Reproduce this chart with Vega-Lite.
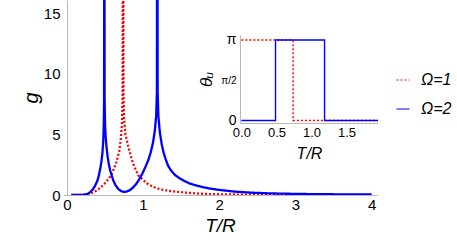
{
  "$schema": "https://vega.github.io/schema/vega-lite/v6.json",
  "width": 314,
  "height": 195,
  "autosize": "none",
  "padding": {"left": 63, "top": 0, "right": 80, "bottom": 47},
  "background": "white",
  "config": {
    "view": {"stroke": null},
    "font": "Liberation Sans",
    "axis": {"grid": false, "ticks": false, "domainColor": "#b8b8b8", "domainWidth": 1, "labelColor": "#000", "titleColor": "#000", "titleFontWeight": "normal", "titleFontStyle": "italic"},
    "legend": {"orient": "none", "legendX": 332, "legendY": 72, "padding": 0, "labelFontSize": 16, "labelFontStyle": "italic", "labelColor": "#000", "symbolType": "stroke", "symbolSize": 170, "symbolStrokeWidth": 1.2, "labelOffset": 10, "rowPadding": 13}
  },
  "datasets": {
    "main": [
      {"s":"Ω=1","t":0.06,"g":0},{"s":"Ω=1","t":0.15,"g":0.002},{"s":"Ω=1","t":0.2,"g":0.01},{"s":"Ω=1","t":0.25,"g":0.03},{"s":"Ω=1","t":0.3,"g":0.1},{"s":"Ω=1","t":0.35,"g":0.22},{"s":"Ω=1","t":0.39,"g":0.36},{"s":"Ω=1","t":0.44,"g":0.6},{"s":"Ω=1","t":0.48,"g":0.83},{"s":"Ω=1","t":0.52,"g":1.1},{"s":"Ω=1","t":0.566,"g":1.5},{"s":"Ω=1","t":0.6,"g":1.9},{"s":"Ω=1","t":0.63,"g":2.35},{"s":"Ω=1","t":0.66,"g":2.9},{"s":"Ω=1","t":0.69,"g":3.7},{"s":"Ω=1","t":0.71,"g":4.7},{"s":"Ω=1","t":0.725,"g":6},{"s":"Ω=1","t":0.733,"g":8.5},{"s":"Ω=1","t":0.738,"g":40},{"s":"Ω=1","t":0.743,"g":8.5},{"s":"Ω=1","t":0.752,"g":6.2},{"s":"Ω=1","t":0.77,"g":5.0},{"s":"Ω=1","t":0.807,"g":4.0},{"s":"Ω=1","t":0.84,"g":3.2},{"s":"Ω=1","t":0.87,"g":2.6},{"s":"Ω=1","t":0.9,"g":2.15},{"s":"Ω=1","t":0.94,"g":1.6},{"s":"Ω=1","t":1.0,"g":1.25},{"s":"Ω=1","t":1.05,"g":0.97},{"s":"Ω=1","t":1.12,"g":0.72},{"s":"Ω=1","t":1.18,"g":0.55},{"s":"Ω=1","t":1.26,"g":0.43},{"s":"Ω=1","t":1.355,"g":0.33},{"s":"Ω=1","t":1.46,"g":0.26},{"s":"Ω=1","t":1.575,"g":0.19},{"s":"Ω=1","t":1.7,"g":0.13},{"s":"Ω=1","t":1.86,"g":0.08},{"s":"Ω=1","t":2.0,"g":0.06},{"s":"Ω=1","t":2.2,"g":0.04},{"s":"Ω=1","t":2.5,"g":0.025},{"s":"Ω=1","t":3.0,"g":0.012},{"s":"Ω=1","t":3.5,"g":0.007},{"s":"Ω=1","t":4.0,"g":0.004},
      {"s":"Ω=2","t":0.06,"g":0},{"s":"Ω=2","t":0.15,"g":0.003},{"s":"Ω=2","t":0.2,"g":0.015},{"s":"Ω=2","t":0.25,"g":0.05},{"s":"Ω=2","t":0.28,"g":0.12},{"s":"Ω=2","t":0.31,"g":0.25},{"s":"Ω=2","t":0.34,"g":0.45},{"s":"Ω=2","t":0.37,"g":0.75},{"s":"Ω=2","t":0.4,"g":1.15},{"s":"Ω=2","t":0.42,"g":1.6},{"s":"Ω=2","t":0.44,"g":2.2},{"s":"Ω=2","t":0.455,"g":2.8},{"s":"Ω=2","t":0.468,"g":3.5},{"s":"Ω=2","t":0.478,"g":4.5},{"s":"Ω=2","t":0.485,"g":5.8},{"s":"Ω=2","t":0.489,"g":8},{"s":"Ω=2","t":0.492,"g":40},{"s":"Ω=2","t":0.496,"g":8},{"s":"Ω=2","t":0.502,"g":5.8},{"s":"Ω=2","t":0.51,"g":4.8},{"s":"Ω=2","t":0.52,"g":4.0},{"s":"Ω=2","t":0.535,"g":3.2},{"s":"Ω=2","t":0.55,"g":2.6},{"s":"Ω=2","t":0.57,"g":2.0},{"s":"Ω=2","t":0.59,"g":1.6},{"s":"Ω=2","t":0.61,"g":1.2},{"s":"Ω=2","t":0.64,"g":0.8},{"s":"Ω=2","t":0.675,"g":0.5},{"s":"Ω=2","t":0.71,"g":0.33},{"s":"Ω=2","t":0.75,"g":0.25},{"s":"Ω=2","t":0.79,"g":0.29},{"s":"Ω=2","t":0.83,"g":0.42},{"s":"Ω=2","t":0.87,"g":0.62},{"s":"Ω=2","t":0.91,"g":0.9},{"s":"Ω=2","t":0.95,"g":1.3},{"s":"Ω=2","t":0.99,"g":1.75},{"s":"Ω=2","t":1.03,"g":2.3},{"s":"Ω=2","t":1.07,"g":2.9},{"s":"Ω=2","t":1.1,"g":3.5},{"s":"Ω=2","t":1.13,"g":4.3},{"s":"Ω=2","t":1.155,"g":5.3},{"s":"Ω=2","t":1.172,"g":6.5},{"s":"Ω=2","t":1.182,"g":8.5},{"s":"Ω=2","t":1.187,"g":40},{"s":"Ω=2","t":1.192,"g":8.5},{"s":"Ω=2","t":1.202,"g":6.5},{"s":"Ω=2","t":1.22,"g":5.2},{"s":"Ω=2","t":1.245,"g":4.2},{"s":"Ω=2","t":1.27,"g":3.5},{"s":"Ω=2","t":1.3,"g":2.9},{"s":"Ω=2","t":1.33,"g":2.4},{"s":"Ω=2","t":1.37,"g":2.0},{"s":"Ω=2","t":1.42,"g":1.65},{"s":"Ω=2","t":1.48,"g":1.38},{"s":"Ω=2","t":1.53,"g":1.2},{"s":"Ω=2","t":1.6,"g":0.98},{"s":"Ω=2","t":1.71,"g":0.76},{"s":"Ω=2","t":1.86,"g":0.55},{"s":"Ω=2","t":2.0,"g":0.42},{"s":"Ω=2","t":2.2,"g":0.28},{"s":"Ω=2","t":2.4,"g":0.2},{"s":"Ω=2","t":2.63,"g":0.14},{"s":"Ω=2","t":2.85,"g":0.11},{"s":"Ω=2","t":3.07,"g":0.085},{"s":"Ω=2","t":3.5,"g":0.06},{"s":"Ω=2","t":4.0,"g":0.045}
    ],
    "inset": [
      {"s":"Ω=1","t":0,"th":1},{"s":"Ω=1","t":0.738,"th":0},{"s":"Ω=1","t":1.95,"th":0},
      {"s":"Ω=2","t":0,"th":0},{"s":"Ω=2","t":0.487,"th":1},{"s":"Ω=2","t":1.187,"th":0},{"s":"Ω=2","t":1.95,"th":0}
    ]
  },
  "layer": [
    {
      "data": {"name": "main"},
      "mark": {"type": "line", "clip": true, "strokeWidth": 2.3},
      "encoding": {
        "x": {"field": "t", "type": "quantitative", "scale": {"domain": [-0.05, 4.07], "nice": false, "zero": false},
          "axis": {"values": [0, 1, 2, 3, 4], "title": "T/R", "labelFontSize": 15, "labelPadding": 2, "titleFontSize": 19, "titlePadding": 4}},
        "y": {"field": "g", "type": "quantitative", "scale": {"domain": [0, 16.1], "nice": false},
          "axis": {"values": [0, 5, 10, 15], "offset": -4, "title": "g", "labelFontSize": 15, "labelPadding": 7, "titleFontSize": 20, "titlePadding": 2}},
        "color": {"field": "s", "type": "nominal", "scale": {"domain": ["Ω=1", "Ω=2"], "range": ["#ff0000", "#0000ff"]}, "legend": {"title": null}},
        "strokeDash": {"field": "s", "type": "nominal", "scale": {"domain": ["Ω=1", "Ω=2"], "range": [[2, 2], [1, 0]]}, "legend": {"title": null}}
      }
    },
    {
      "data": {"name": "inset"},
      "mark": {"type": "line", "interpolate": "step-after", "strokeWidth": 1.4},
      "encoding": {
        "x": {"field": "t", "type": "quantitative", "scale": {"domain": [-0.02, 1.95], "range": [177, 315], "nice": false, "zero": false},
          "axis": {"orient": "bottom", "offset": -72, "values": [0, 0.5, 1, 1.5], "title": "T/R", "labelFontSize": 13, "labelPadding": 3, "titleFontSize": 16, "titlePadding": 6}},
        "y": {"field": "th", "type": "quantitative", "scale": {"domain": [-0.032, 1.062], "range": [123, 35], "nice": false, "zero": false},
          "axis": {"orient": "left", "offset": -177, "values": [0, 0.5, 1], "labelExpr": "datum.value == 1 ? 'π' : datum.value == 0.5 ? 'π/2' : '0'", "labelFontSize": {"condition": {"test": "datum.value == 0.5", "value": 10}, "value": 14}, "labelPadding": 4, "title": "θᵤ", "titleFontSize": 17, "titlePadding": 5}},
        "color": {"field": "s", "type": "nominal", "scale": {"domain": ["Ω=1", "Ω=2"], "range": ["#ff0000", "#0000ff"]}, "legend": {"title": null}},
        "strokeDash": {"field": "s", "type": "nominal", "scale": {"domain": ["Ω=1", "Ω=2"], "range": [[2, 2], [1, 0]]}, "legend": {"title": null}}
      }
    }
  ],
  "resolve": {"scale": {"x": "independent", "y": "independent"}}
}
